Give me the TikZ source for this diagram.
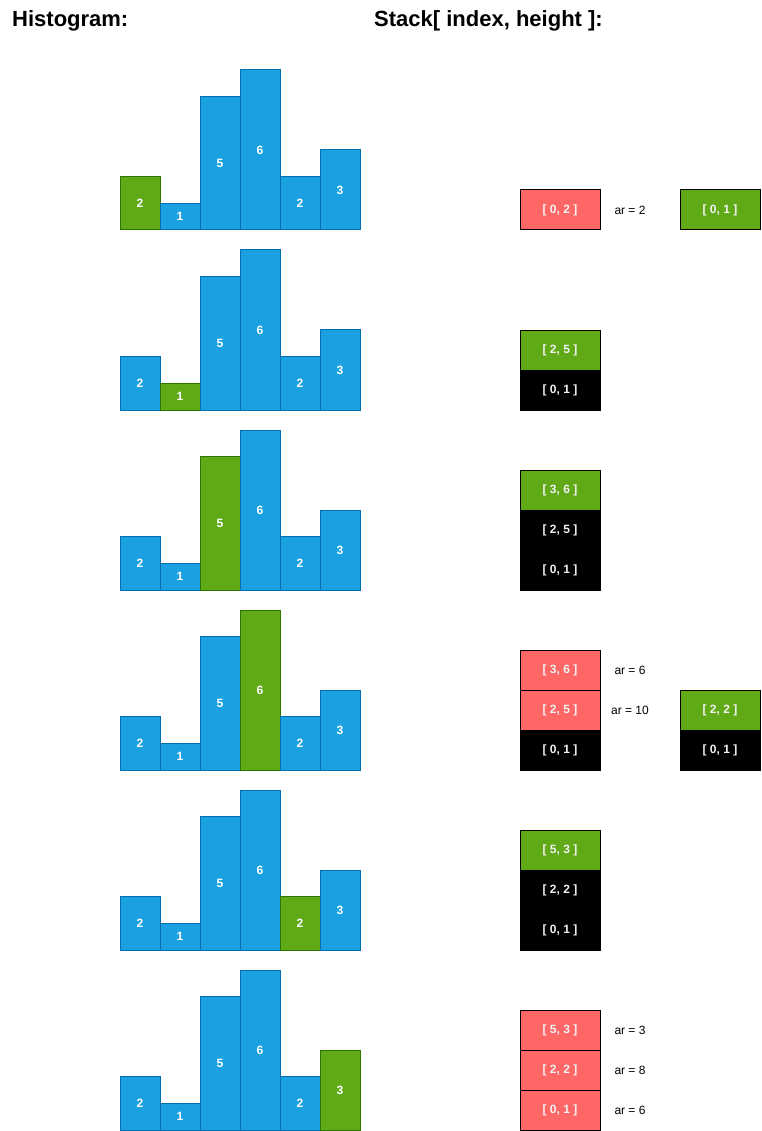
\documentclass[tikz,border=0pt]{standalone}
\usepackage{fontspec}
\setmainfont{Liberation Sans}
\usetikzlibrary{positioning}
\definecolor{barblue}{HTML}{1BA1E2}
\definecolor{barline}{HTML}{006EAF}
\definecolor{curgreen}{HTML}{60A917}
\definecolor{curline}{HTML}{2D7600}
\definecolor{poppink}{HTML}{FF6666}

\begin{document}
\begin{tikzpicture}[x=1pt, y=-1pt,
    bar/.style={draw=barline, fill=barblue, line width=1pt, outer sep=0pt, inner sep=0pt,
        minimum width=40pt, anchor=south west, text=white, font=\fontsize{12}{14}\selectfont\bfseries},
    curbar/.style={bar, draw=curline, fill=curgreen},
    cell/.style={draw=black, fill=black, line width=1pt, outer sep=0pt, inner sep=0pt,
        minimum width=80pt, minimum height=40pt, text=white!95!black, font=\fontsize{12}{14}\selectfont\bfseries},
    pushcell/.style={cell, fill=curgreen},
    popcell/.style={cell, fill=poppink},
    arlabel/.style={font=\fontsize{12}{14}\selectfont},
    title/.style={anchor=base west, inner sep=0pt, font=\fontsize{22}{26}\selectfont\bfseries},
    node distance=0pt]

    \useasboundingbox (0,0) rectangle (761,1131);

    % === Titles ===
    \node[title] (histtitle) at (12,27) {Histogram:};
    \node[title] (stacktitle) at (374,27) {Stack[ index, height ]:};

    % === Histograms (one per step, current bar in green) ===
    \foreach \r in {0,...,5} {
        \foreach \v [count=\i from 0] in {2,1,5,6,2,3} {
            \ifnum\i=\r \def\bsty{curbar}\else \def\bsty{bar}\fi
            \node[\bsty, minimum height=\v*26.667pt] (b\r-\i) at (120+40*\i, 230+180*\r) {\v};
        }
    }

    % === Step 1 ===
    \node[popcell] (s1a) at (560,210) {[ 0, 2 ]};
    \node[arlabel] (ar1a) at (630,210) {ar = 2};
    \node[pushcell] (s1b) at (720,210) {[ 0, 1 ]};

    % === Step 2 ===
    \node[pushcell] (s2a) at (560,350) {[ 2, 5 ]};
    \node[cell, below=of s2a] (s2b) {[ 0, 1 ]};

    % === Step 3 ===
    \node[pushcell] (s3a) at (560,490) {[ 3, 6 ]};
    \node[cell, below=of s3a] (s3b) {[ 2, 5 ]};
    \node[cell, below=of s3b] (s3c) {[ 0, 1 ]};

    % === Step 4 ===
    \node[popcell] (s4a) at (560,670) {[ 3, 6 ]};
    \node[popcell, below=of s4a] (s4b) {[ 2, 5 ]};
    \node[cell, below=of s4b] (s4c) {[ 0, 1 ]};
    \node[arlabel] (ar4a) at (630,670) {ar = 6};
    \node[arlabel] (ar4b) at (630,710) {ar = 10};
    \node[pushcell] (s4d) at (720,710) {[ 2, 2 ]};
    \node[cell, below=of s4d] (s4e) {[ 0, 1 ]};

    % === Step 5 ===
    \node[pushcell] (s5a) at (560,850) {[ 5, 3 ]};
    \node[cell, below=of s5a] (s5b) {[ 2, 2 ]};
    \node[cell, below=of s5b] (s5c) {[ 0, 1 ]};

    % === Step 6 ===
    \node[popcell] (s6a) at (560,1030) {[ 5, 3 ]};
    \node[popcell, below=of s6a] (s6b) {[ 2, 2 ]};
    \node[popcell, below=of s6b] (s6c) {[ 0, 1 ]};
    \node[arlabel] (ar6a) at (630,1030) {ar = 3};
    \node[arlabel] (ar6b) at (630,1070) {ar = 8};
    \node[arlabel] (ar6c) at (630,1110) {ar = 6};

\end{tikzpicture}
\end{document}
